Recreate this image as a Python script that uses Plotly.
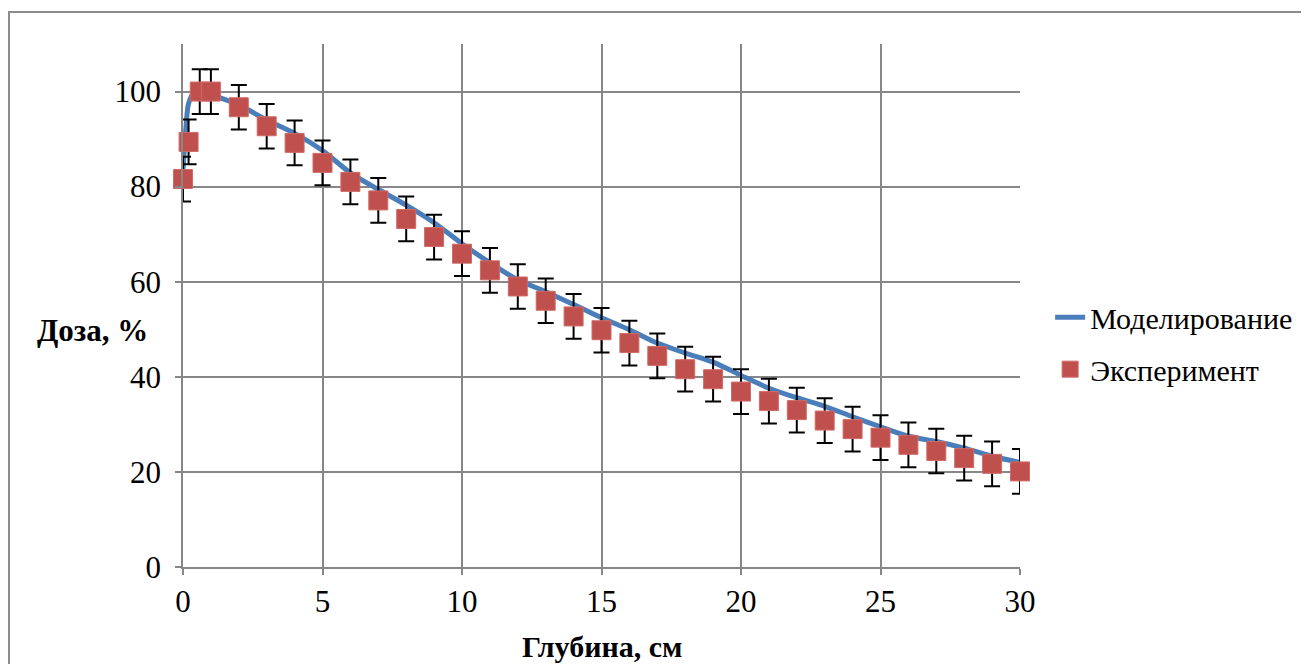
import plotly.graph_objects as go

# Model curve (Моделирование)
model_x = [0, 0.1, 0.2, 0.4, 0.6, 1, 2, 3, 4, 5, 6, 7, 8, 9, 10, 11, 12, 13, 14, 15,
           16, 17, 18, 19, 20, 21, 22, 23, 24, 25, 26, 27, 28, 29, 30]
model_y = [83.5, 92.0, 97.5, 99.8, 100.0, 99.3, 97.2, 94.0, 91.2, 87.6, 82.9, 79.4, 76.1,
           72.4, 68.0, 64.0, 60.4, 57.9, 55.2, 52.4, 49.9, 47.1, 45.0, 43.1, 40.3, 37.6,
           35.6, 33.8, 31.6, 29.5, 27.5, 26.4, 25.0, 23.3, 22.0]

# Experiment (Эксперимент)
exp_x = [0, 0.2, 0.6, 1, 2, 3, 4, 5, 6, 7, 8, 9, 10, 11, 12, 13, 14, 15, 16, 17, 18,
         19, 20, 21, 22, 23, 24, 25, 26, 27, 28, 29, 30]
exp_y = [81.6, 89.4, 100.0, 100.0, 96.7, 92.7, 89.2, 85.0, 81.0, 77.1, 73.2, 69.4, 65.9,
         62.4, 59.0, 56.0, 52.7, 49.8, 47.1, 44.4, 41.6, 39.5, 36.9, 34.9, 33.0, 30.8,
         29.0, 27.2, 25.7, 24.4, 22.9, 21.7, 20.1]
exp_err = 4.7

x_ticks = [0, 5, 10, 15, 20, 25, 30]
y_ticks = [0, 20, 40, 60, 80, 100]

FONT = "Liberation Serif, Times New Roman, DejaVu Serif, serif"
GRID = "#878787"

fig = go.Figure()
fig.add_trace(go.Scatter(
    x=model_x, y=model_y, mode="lines", name="Моделирование",
    line=dict(color="#4A7EBB", width=5, shape="spline", smoothing=0.8),
    legendgroup="a", cliponaxis=False,
))
fig.add_trace(go.Scatter(
    x=exp_x, y=exp_y, mode="markers", name="Эксперимент",
    marker=dict(symbol="square", size=19, color="#C0504D",
                line=dict(color="#D06A67", width=1)),
    error_y=dict(type="constant", value=exp_err, color="black", thickness=2, width=8),
    legendgroup="b", cliponaxis=False,
))

fig.update_layout(
    width=1309, height=664,
    margin=dict(l=175, r=297, t=36, b=105),
    paper_bgcolor="white", plot_bgcolor="white",
    font=dict(family=FONT, color="black", size=31),
    showlegend=True,
    legend=dict(x=1.036, y=0.428, xanchor="left", yanchor="middle",
                font=dict(family=FONT, size=30), tracegroupgap=10,
                bgcolor="rgba(0,0,0,0)"),
    xaxis=dict(range=[0, 30], tickvals=x_ticks, showgrid=True, gridcolor=GRID,
               gridwidth=1.5, zeroline=False, showline=True, linecolor=GRID,
               linewidth=1.5, ticks="outside", ticklen=6, tickcolor=GRID,
               tickwidth=1.5, tickfont=dict(size=31, family=FONT)),
    yaxis=dict(range=[0, 110], tickvals=y_ticks, showgrid=True, gridcolor=GRID,
               gridwidth=1.5, zeroline=False, showline=True, linecolor=GRID,
               linewidth=1.5, ticks="outside", ticklen=6, tickcolor=GRID,
               tickwidth=1.5, tickfont=dict(size=31, family=FONT),
               ticklabelstandoff=8),
    annotations=[
        dict(text="<b>Доза, %</b>", xref="paper", yref="paper", x=-0.1768, y=0.453,
             xanchor="left", yanchor="middle", showarrow=False,
             font=dict(family=FONT, size=31)),
        dict(text="<b>Глубина, см</b>", xref="paper", yref="paper", x=0.5, y=-0.152,
             xanchor="center", yanchor="middle", showarrow=False,
             font=dict(family=FONT, size=30)),
    ],
    shapes=[
        dict(type="rect", xref="paper", yref="paper", x0=-0.2079, x1=1.5, y0=-0.4, y1=1.0612,
             line=dict(color="#8C8C8C", width=2), layer="below"),
    ],
)

fig.write_html("out.html")
